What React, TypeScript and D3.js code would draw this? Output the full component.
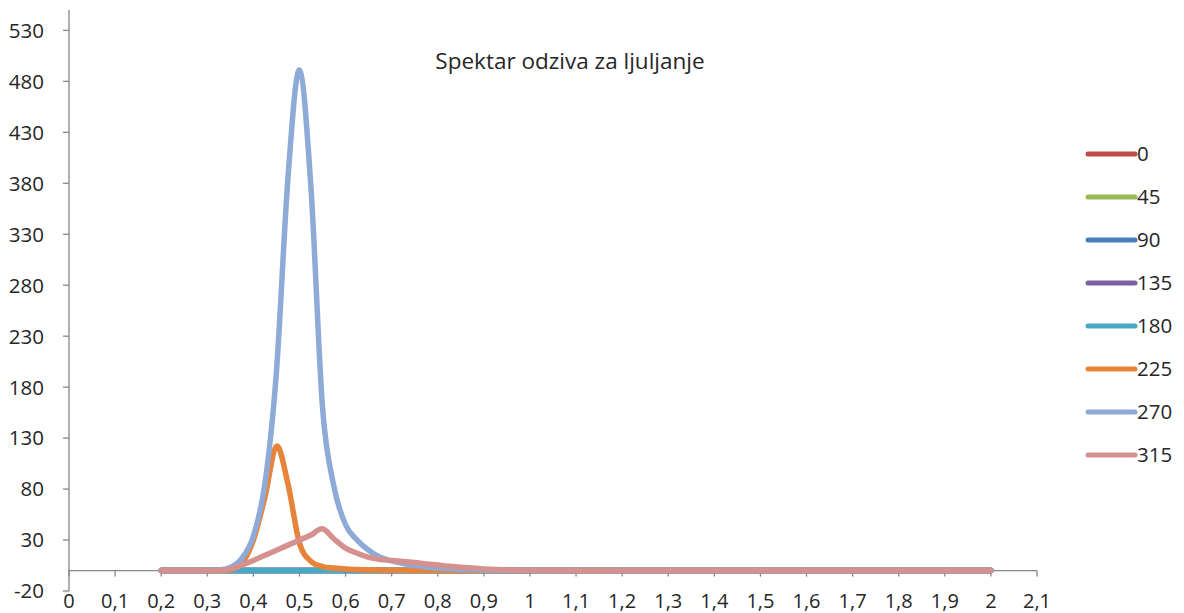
import React from "react";
import * as d3 from "d3";

// frequency (x values)
const freqs = [
  0.2, 0.225, 0.25, 0.275, 0.3, 0.325, 0.35, 0.375, 0.4, 0.425, 0.45, 0.475, 0.5, 0.525,
  0.55, 0.575, 0.6, 0.625, 0.65, 0.675, 0.7, 0.725, 0.75, 0.775, 0.8, 0.825, 0.85, 0.875,
  0.9, 0.925, 0.95, 0.975, 1.0, 1.1, 1.2, 1.3, 1.4, 1.5, 1.6, 1.7, 1.8, 1.9, 2.0,
];

const s0 = [
  0, 0, 0, 0, 0, 0, 0, 0, 0, 0, 0, 0, 0, 0, 0, 0, 0, 0, 0, 0, 0, 0,
  0, 0, 0, 0, 0, 0, 0, 0, 0, 0, 0, 0, 0, 0, 0, 0, 0, 0, 0, 0, 0,
];
const s45 = [
  0, 0, 0, 0, 0, 0, 0, 0, 0, 0, 0, 0, 0, 0, 0, 0, 0, 0, 0, 0, 0, 0,
  0, 0, 0, 0, 0, 0, 0, 0, 0, 0, 0, 0, 0, 0, 0, 0, 0, 0, 0, 0, 0,
];
const s90 = [
  0, 0, 0, 0, 0, 0, 0, 0, 0, 0, 0, 0, 0, 0, 0, 0, 0, 0, 0, 0, 0, 0,
  0, 0, 0, 0, 0, 0, 0, 0, 0, 0, 0, 0, 0, 0, 0, 0, 0, 0, 0, 0, 0,
];
const s135 = [
  0, 0, 0, 0, 0, 0, 0, 0, 0, 0, 0, 0, 0, 0, 0, 0, 0, 0, 0, 0, 0, 0,
  0, 0, 0, 0, 0, 0, 0, 0, 0, 0, 0, 0, 0, 0, 0, 0, 0, 0, 0, 0, 0,
];
const s180 = [
  0, 0, 0, 0, 0, 0, 0, 0, 0, 0, 0, 0, 0, 0, 0, 0, 0, 0, 0, 0, 0, 0,
  0, 0, 0, 0, 0, 0, 0, 0, 0, 0, 0, 0, 0, 0, 0, 0, 0, 0, 0, 0, 0,
];
const s225 = [
  0, 0, 0, 0, 0, 0.3, 1, 7, 30, 72, 122, 85, 27, 9, 4, 2.5, 1.5, 1, 0.7, 0.5, 0.4, 0.3,
  0.2, 0.1, 0.1, 0, 0, 0, 0, 0, 0, 0, 0, 0, 0, 0, 0, 0, 0, 0, 0, 0, 0,
];
const s270 = [
  0, 0, 0, 0, 0, 0.5, 3, 12, 34, 85, 195, 385, 491, 375, 160, 82, 45, 30, 20, 13, 9.5, 7,
  5, 3.5, 2.5, 1.8, 1.3, 1, 0.7, 0.5, 0.4, 0.3, 0.2, 0, 0, 0, 0, 0, 0, 0, 0, 0, 0,
];
const s315 = [
  0, 0, 0, 0, 0, 0, 1.5, 5.5, 10, 15, 20, 25, 30, 35, 41, 31, 22, 17, 13, 11, 10, 9,
  8, 6.5, 5.5, 4.2, 3.3, 2.5, 1.7, 1.1, 0.8, 0.5, 0.4, 0, 0, 0, 0, 0, 0, 0, 0, 0, 0,
];

const seriesNames = ["0", "45", "90", "135", "180", "225", "270", "315"];
const seriesValues = [s0, s45, s90, s135, s180, s225, s270, s315];
const seriesColors = [
  "#be4b48", "#98b954", "#4a7ebb", "#7d60a0", "#46aac5", "#e8833a", "#8eaad6", "#d4918f",
];

const xTicks = d3.range(0, 22).map((i) => i / 10);
const yTicks = d3.range(0, 12).map((i) => -20 + i * 50);
const title = "Spektar odziva za ljuljanje";

const fmt = (v: number) => String(Math.round(v * 10) / 10).replace(".", ",");

export default function App() {
  const W = 1184;
  const H = 613;
  const x = d3.scaleLinear().domain([0, 2.1]).range([69, 1037]);
  const y = d3.scaleLinear().domain([-20, 550]).range([591, 10]);
  const line = d3
    .line<[number, number]>()
    .x((d) => x(d[0]))
    .y((d) => y(d[1]))
    .curve(d3.curveCardinal.tension(0));

  const font = "'Open Sans', 'Noto Sans', sans-serif";
  const axisColor = "#868686";
  const textColor = "#262626";

  return (
    <svg
      width={W}
      height={H}
      style={{ position: "absolute", left: 0, top: 0, background: "#fff" }}
      fontFamily={font}
    >
      <rect x={0} y={0} width={W} height={H} fill="#fff" />
      {/* y axis */}
      <line x1={x(0)} x2={x(0)} y1={y(550)} y2={y(-20)} stroke={axisColor} strokeWidth={1.3} />
      {yTicks.map((t) => (
        <g key={"y" + t}>
          <line x1={x(0) - 6} x2={x(0)} y1={y(t)} y2={y(t)} stroke={axisColor} strokeWidth={1.3} />
          <text
            x={44}
            y={y(t)}
            dy="0.36em"
            textAnchor="end"
            fontSize={20.5}
            fill={textColor}
          >
            {String(t)}
          </text>
        </g>
      ))}
      {/* x axis at zero */}
      <line x1={x(0)} x2={x(2.1)} y1={y(0)} y2={y(0)} stroke={axisColor} strokeWidth={1.3} />
      {xTicks.map((t) => (
        <g key={"x" + t}>
          <line x1={x(t)} x2={x(t)} y1={y(0)} y2={y(0) + 6} stroke={axisColor} strokeWidth={1.3} />
          <text x={x(t)} y={607.5} textAnchor="middle" fontSize={20} fill={textColor}>
            {fmt(t)}
          </text>
        </g>
      ))}
      {/* series */}
      {seriesValues.map((vals, i) => (
        <path
          key={"s" + i}
          d={line(freqs.map((f, j) => [f, vals[j]] as [number, number])) || ""}
          fill="none"
          stroke={seriesColors[i]}
          strokeWidth={5.5}
          strokeLinejoin="round"
          strokeLinecap="round"
        />
      ))}
      {/* title */}
      <text x={570} y={69} textAnchor="middle" fontSize={22.5} fill={textColor}>
        {title}
      </text>
      {/* legend */}
      {seriesNames.map((n, i) => {
        const cy = 154 + i * 43;
        return (
          <g key={"l" + n}>
            <line
              x1={1088}
              x2={1135}
              y1={cy}
              y2={cy}
              stroke={seriesColors[i]}
              strokeWidth={5}
              strokeLinecap="round"
            />
            <text x={1137} y={cy} dy="0.36em" fontSize={20.5} fill={textColor}>
              {n}
            </text>
          </g>
        );
      })}
    </svg>
  );
}
